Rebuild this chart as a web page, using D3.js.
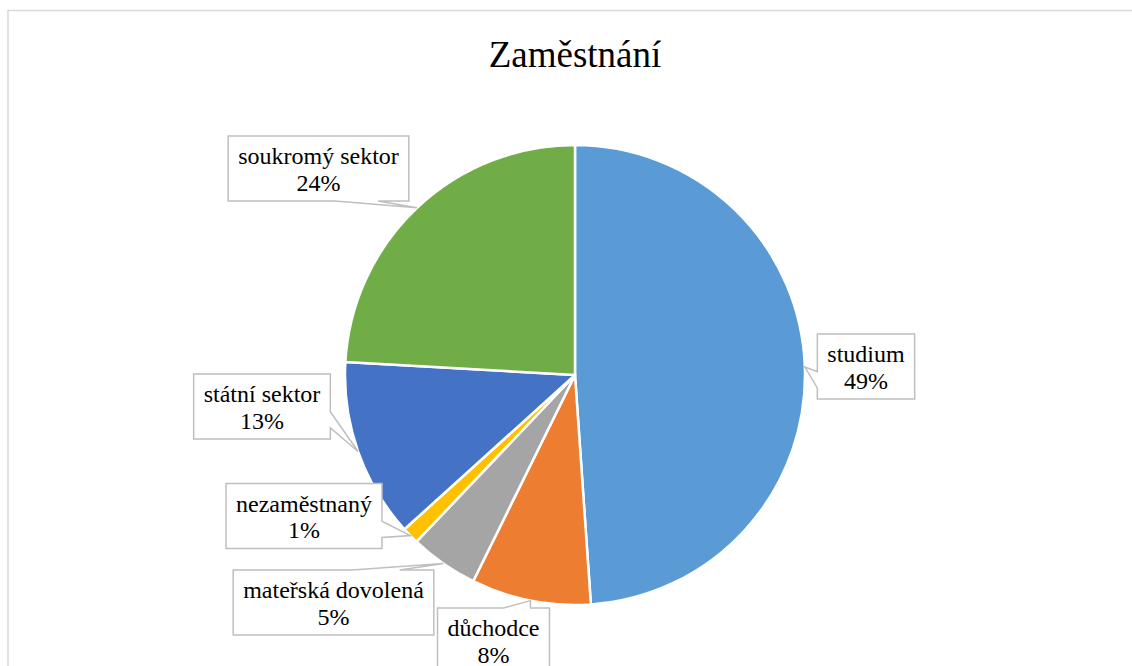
<!DOCTYPE html>
<html>
	<head>
		<meta charset="utf-8">
		<script src="https://d3js.org/d3.v7.min.js"></script>
		<style>
			body { margin: 0; background: #fff; }
		</style>
	</head>
	<body>
		<svg id="chart" width="1132" height="666"></svg>
	<script>
	// data
	var categories = ["studium", "důchodce", "mateřská dovolená", "nezaměstnaný", "státní sektor", "soukromý sektor"];
	var values = [48.9, 8.4, 4.8, 1.2, 12.6, 24.1];
	var colors = ["#5B9BD5", "#ED7D31", "#A5A5A5", "#FFC000", "#4472C4", "#70AD47"];
	var title = "Zaměstnání";

	// where each callout box sits (box centre)
	var labelPos = [[866, 366.5], [493.5, 640.5], [333.5, 602.5], [304, 516], [262, 406.5], [318.5, 168.5]];

	var serif = "'Liberation Serif', 'Times New Roman', Tinos, 'DejaVu Serif', serif";

	var svg = d3.select("#chart"),
		width = +svg.attr("width"),
		height = +svg.attr("height");

	var cx = 575, cy = 375, radius = 230;

	svg.append("rect")
		.attr("x", 8).attr("y", 10.5)
		.attr("width", width + 10).attr("height", height)
		.attr("fill", "#fff")
		.attr("stroke", "#D9D9D9")
		.attr("stroke-width", 1.5);

	svg.append("text")
		.attr("x", cx).attr("y", 67)
		.attr("text-anchor", "middle")
		.attr("font-family", serif)
		.attr("font-size", 37)
		.attr("fill", "#000")
		.text(title);

	var total = d3.sum(values);
	var fmt = d3.format(".0%");

	var pie = d3.pie().sort(null).value(function(d){ return d; });
	var arcs = pie(values);
	var arc = d3.arc().innerRadius(0).outerRadius(radius);

	var g = svg.append("g").attr("transform", "translate(" + cx + "," + cy + ")");

	g.selectAll("path.slice")
		.data(arcs)
		.enter().append("path")
			.attr("class", "slice")
			.attr("d", arc)
			.attr("fill", function(d, i){ return colors[i]; })
			.attr("stroke", "#fff")
			.attr("stroke-width", 2.5)
			.attr("stroke-linejoin", "round");

	// callout shape: box with a wedge pointing at tip
	function callout(x0, y0, w, h, tip) {
		var x1 = x0 + w, y1 = y0 + h, mx = x0 + w/2, my = y0 + h/2;
		var nx = (tip[0] - mx) / (w/2), ny = (tip[1] - my) / (h/2);
		var side;
		if (Math.abs(ny) > Math.abs(nx)) side = ny > 0 ? "bottom" : "top";
		else side = nx > 0 ? "right" : "left";
		var pts = [];
		if (side == "top" || side == "bottom") {
			var s = tip[0] >= mx ? 1 : -1;
			var a = mx + s*0.09*w, b = mx + s*0.33*w;
			var lo = Math.min(a, b), hi = Math.max(a, b);
			var ey = side == "top" ? y0 : y1;
			var wedge = [[lo, ey], tip, [hi, ey]];
			if (side == "top") pts = [[x0, y0]].concat(wedge, [[x1, y0], [x1, y1], [x0, y1]]);
			else pts = [[x0, y0], [x1, y0], [x1, y1]].concat(wedge.reverse(), [[x0, y1]]);
		} else {
			var s2 = tip[1] >= my ? 1 : -1;
			var c = my + s2*0.08*h, e = my + s2*0.33*h;
			var lo2 = Math.min(c, e), hi2 = Math.max(c, e);
			var ex = side == "left" ? x0 : x1;
			var wedge2 = [[ex, lo2], tip, [ex, hi2]];
			if (side == "right") pts = [[x0, y0], [x1, y0]].concat(wedge2, [[x1, y1], [x0, y1]]);
			else pts = [[x0, y0], [x1, y0], [x1, y1], [x0, y1]].concat(wedge2.reverse());
		}
		return "M" + pts.map(function(p){ return p[0] + "," + p[1]; }).join("L") + "Z";
	}

	var labels = svg.append("g");
	arcs.forEach(function(d, i) {
		var mid = (d.startAngle + d.endAngle) / 2;
		var tip = [cx + radius * Math.sin(mid), cy - radius * Math.cos(mid)];
		var pos = labelPos[i];
		var lg = labels.append("g");
		var shape = lg.append("path");
		var t = lg.append("text")
			.attr("text-anchor", "middle")
			.attr("font-family", serif)
			.attr("font-size", 24)
			.attr("fill", "#000");
		t.append("tspan").attr("x", pos[0]).attr("y", pos[1] - 4.5).text(categories[i]);
		t.append("tspan").attr("x", pos[0]).attr("y", pos[1] + 22).text(fmt(values[i] / total));
		var tw = 0;
		t.selectAll("tspan").each(function(){ tw = Math.max(tw, this.getComputedTextLength()); });
		var w = tw + 20, h = 65;
		shape.attr("d", callout(pos[0] - w/2, pos[1] - h/2, w, h, tip))
			.attr("fill", "#fff")
			.attr("stroke", "#BFBFBF")
			.attr("stroke-width", 1.5);
	});
	</script>
	</body>
</html>
